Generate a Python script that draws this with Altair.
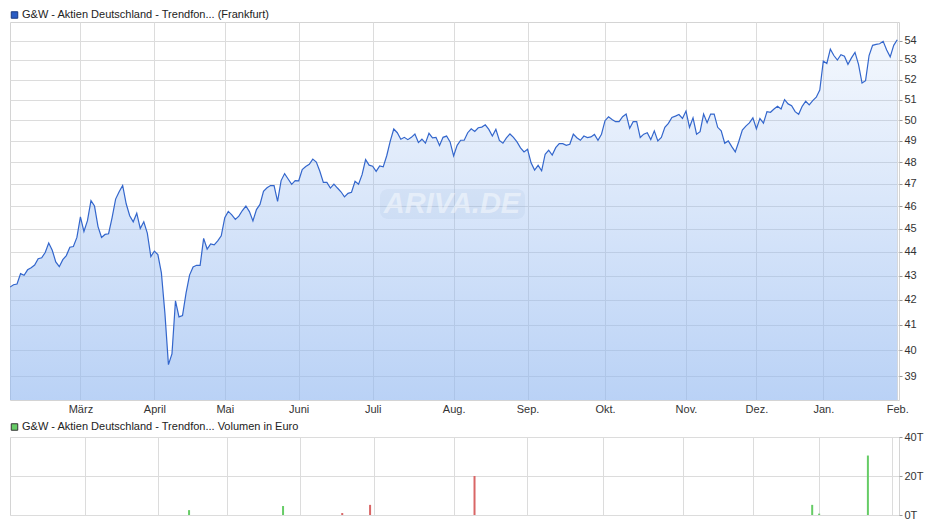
import altair as alt
import pandas as pd

# ---------------- data ----------------
prices = [
    42.52, 42.62, 42.65, 43.08, 43.01, 43.24, 43.33, 43.44, 43.71, 43.75,
    43.97, 44.38, 44.07, 43.57, 43.37, 43.67, 43.84, 44.20, 44.23, 44.62,
    45.52, 44.88, 45.35, 46.24, 46.00, 45.09, 44.62, 44.75, 44.78, 45.49,
    46.31, 46.64, 46.93, 46.10, 45.57, 45.30, 45.68, 45.01, 45.30, 44.81,
    43.80, 44.03, 43.88, 43.11, 41.45, 39.44, 39.85, 41.96, 41.31, 41.36,
    42.27, 43.02, 43.36, 43.43, 43.43, 44.58, 44.12, 44.34, 44.30, 44.47,
    44.69, 45.48, 45.76, 45.61, 45.41, 45.55, 45.80, 46.00, 45.75, 45.34,
    45.84, 46.07, 46.66, 46.82, 46.92, 46.92, 46.21, 47.15, 47.47, 47.22,
    46.98, 47.15, 47.14, 47.66, 47.80, 47.90, 48.14, 48.00, 47.58, 47.07,
    47.07, 46.81, 46.99, 46.81, 46.64, 46.41, 46.57, 46.62, 47.12, 46.98,
    47.42, 48.12, 47.86, 47.81, 47.57, 47.82, 47.78, 48.30, 48.99, 49.57,
    49.39, 49.08, 49.17, 49.06, 49.17, 49.33, 48.92, 49.08, 48.89, 49.36,
    49.14, 49.17, 48.78, 49.17, 49.23, 48.95, 48.29, 48.79, 49.03, 49.03,
    49.39, 49.58, 49.45, 49.63, 49.66, 49.77, 49.55, 49.23, 49.55, 49.02,
    48.89, 49.14, 49.33, 49.17, 48.95, 48.67, 48.48, 48.60, 47.97, 47.63,
    47.85, 47.60, 48.37, 48.56, 48.33, 48.68, 48.87, 48.87, 48.79, 48.84,
    49.32, 49.15, 49.03, 49.23, 49.16, 49.19, 49.31, 49.03, 49.32, 49.97,
    50.16, 50.03, 49.92, 49.92, 50.16, 50.29, 49.60, 49.92, 49.92, 49.16,
    49.32, 49.39, 49.06, 49.48, 49.00, 49.16, 49.65, 49.84, 50.13, 50.19,
    50.27, 50.08, 50.44, 49.65, 50.11, 49.32, 49.44, 50.29, 49.87, 50.29,
    50.29, 49.65, 49.48, 48.89, 49.00, 48.73, 48.48, 48.97, 49.52, 49.71,
    49.86, 50.11, 49.58, 50.08, 49.85, 50.41, 50.38, 50.54, 50.67, 50.54,
    51.00, 50.79, 50.70, 50.41, 50.28, 50.67, 50.92, 50.74, 50.95, 51.12,
    51.48, 52.95, 52.82, 53.56, 53.23, 53.00, 53.27, 53.19, 52.78, 53.11,
    53.39, 52.78, 51.83, 51.95, 53.23, 53.76, 53.81, 53.84, 53.97, 53.52,
    53.16, 53.76, 54.05,
]

month_ticks = [20, 41, 61, 82, 103, 126, 147, 169, 192, 212, 231, 252]
month_labels = ["März", "April", "Mai", "Juni", "Juli", "Aug.", "Sep.",
                "Okt.", "Nov.", "Dez.", "Jan.", "Feb."]

price_ticks = [39, 40, 41, 42, 43, 44, 45, 46, 47, 48, 49, 50, 51, 52, 53, 54]

vol_days = [50, 77, 94, 102, 132, 229, 231, 245]
vol_values = [2500, 4600, 1000, 5200, 20000, 5200, 700, 30500]
vol_dir = ["up", "up", "down", "down", "down", "up", "up", "up"]
vol_ticks = [0, 20000, 40000]
vol_tick_labels = ["0T", "20T", "40T"]

legend_top = "G&W - Aktien Deutschland - Trendfon... (Frankfurt)"
legend_bottom = "G&W - Aktien Deutschland - Trendfon... Volumen in Euro"
watermark = "ARIVA.DE"

# ---------------- frames ----------------
price_df = pd.DataFrame({"day": list(range(len(prices))), "price": prices})
vol_df = pd.DataFrame({"day": vol_days, "volume": vol_values, "dir": vol_dir})

FONT = "Liberation Sans"
GRID = "#dcdcdc"
W = 889
H_TOP = 378
H_BOT = 78

x_domain = [0, 252.5]
month_expr = "[" + ",".join("'%s'" % m for m in month_labels) + "][indexof([" + \
    ",".join(str(v) for v in month_ticks) + "], datum.value)]"
vol_expr = "[" + ",".join("'%s'" % m for m in vol_tick_labels) + "][indexof([" + \
    ",".join(str(v) for v in vol_ticks) + "], datum.value)]"

x_top = alt.X(
    "day:Q",
    scale=alt.Scale(domain=x_domain, nice=False, zero=False),
    axis=alt.Axis(values=month_ticks, labelExpr=month_expr, title=None,
                  grid=True, gridColor=GRID, ticks=False, tickSize=0, domain=False,
                  labelPadding=3, labelFontSize=11, labelColor="#333",
                  labelFont=FONT, labelFlush=False, labelOverlap=False),
)
y_top = alt.Y(
    "price:Q",
    scale=alt.Scale(type="log", domain=[38.11, 54.99], nice=False, zero=False),
    axis=alt.Axis(orient="right", values=price_ticks, title=None, format="d",
                  grid=True, gridColor=GRID, domain=False, ticks=True,
                  tickSize=3, tickColor="#999", labelPadding=2,
                  labelFontSize=11, labelColor="#333", labelFont=FONT,
                  labelFlush=False, labelOverlap=False),
)

gradient = alt.Gradient(
    gradient="linear",
    stops=[alt.GradientStop(color="rgba(143,182,240,0.10)", offset=0),
           alt.GradientStop(color="rgba(143,182,240,0.62)", offset=1)],
    x1=1, x2=1, y1=0, y2=1,
)

area = alt.Chart(price_df).mark_area(color=gradient, clip=True).encode(
    x=x_top, y=y_top, y2=alt.datum(38.11)
)
line = alt.Chart(price_df).mark_line(color="#3366cc", strokeWidth=1.2,
                                     clip=True).encode(
    x="day:Q", y="price:Q"
)

one = pd.DataFrame({"t": [legend_top]})
sq_top = alt.Chart(one).mark_square(size=42, color="#2a5cc4", stroke="#1a3a80",
                                    strokeWidth=1, opacity=1).encode(
    x=alt.value(4.5), y=alt.value(-7)
)
txt_top = alt.Chart(one).mark_text(align="left", baseline="middle", fontSize=11,
                                   font=FONT, color="#222").encode(
    x=alt.value(12), y=alt.value(-7), text="t:N"
)

wm_df = pd.DataFrame({"t": [watermark]})
wm_box = alt.Chart(wm_df).mark_rect(cornerRadius=8, color="#7f9cc8", opacity=0.09).encode(
    x=alt.value(370), x2=alt.value(515), y=alt.value(167), y2=alt.value(197)
)
wm_txt = alt.Chart(wm_df).mark_text(fontSize=29, fontStyle="italic", fontWeight="bold",
                                    font=FONT, color="#ffffff", opacity=0.45).encode(
    x=alt.value(442), y=alt.value(182), text="t:N"
)

top = alt.layer(area, wm_box, wm_txt, line, sq_top, txt_top).properties(
    width=W, height=H_TOP
)

x_bot = alt.X(
    "day:Q",
    scale=alt.Scale(domain=x_domain, nice=False, zero=False),
    axis=alt.Axis(values=month_ticks, labels=False, ticks=False, domain=False,
                  grid=True, gridColor=GRID, title=None),
)
y_bot = alt.Y(
    "volume:Q",
    scale=alt.Scale(domain=[0, 40000], nice=False, zero=True),
    axis=alt.Axis(orient="right", values=vol_ticks, labelExpr=vol_expr, title=None,
                  grid=True, gridColor=GRID, domain=False, ticks=True, tickSize=3,
                  tickColor="#999", labelPadding=2, labelFontSize=11,
                  labelColor="#333", labelFont=FONT, labelFlush=False,
                  labelOverlap=False),
)
bars = alt.Chart(vol_df).mark_bar(size=2, clip=True).encode(
    x=x_bot, y=y_bot,
    color=alt.Color("dir:N", scale=alt.Scale(domain=["up", "down"],
                                             range=["#66cc66", "#d96666"]),
                    legend=None),
)
one_b = pd.DataFrame({"t": [legend_bottom]})
sq_bot = alt.Chart(one_b).mark_square(size=42, color="#66cc66", stroke="#333333",
                                      strokeWidth=1, opacity=1).encode(
    x=alt.value(4.5), y=alt.value(-10)
)
txt_bot = alt.Chart(one_b).mark_text(align="left", baseline="middle", fontSize=11,
                                     font=FONT, color="#222").encode(
    x=alt.value(12), y=alt.value(-10), text="t:N"
)
bottom = alt.layer(bars, sq_bot, txt_bot).properties(width=W, height=H_BOT)

chart = alt.vconcat(top, bottom, spacing=5).properties(
    padding={"left": 0, "top": 0, "right": 4, "bottom": 0},
    background="white",
).configure_view(stroke="#d4d4d4")

chart.save("out.html", embed_options={"renderer": "svg", "actions": False})
